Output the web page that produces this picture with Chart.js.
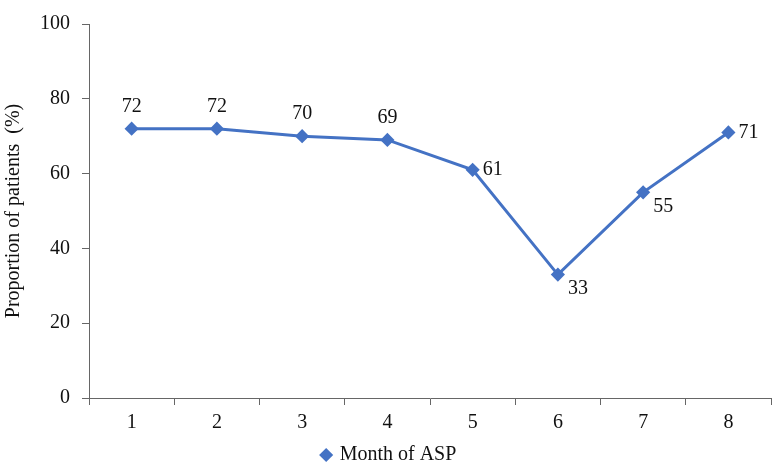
<!DOCTYPE html>
<html><head><meta charset="utf-8">
<script src="https://cdn.jsdelivr.net/npm/chart.js@4"></script>
<style>html,body{margin:0;padding:0;background:#fff}#w{width:779px;height:475px}</style>
</head><body><div id="w"><canvas id="c"></canvas></div>
<script>
const months = ['1','2','3','4','5','6','7','8'];
const proportion = [72,72,70,69,61,33,55,71];
const labelPlacement = ['top','top','top','top','right','belowright','belowright','right'];

const labelPlugin = {
  id:'lbl',
  afterDatasetsDraw(chart){
    const ctx = chart.ctx, meta = chart.getDatasetMeta(0);
    ctx.save();
    ctx.font = '20px "Liberation Serif"';
    ctx.fillStyle = '#111';
    meta.data.forEach((p,i)=>{
      const t = String(proportion[i]), pl = labelPlacement[i];
      let x=p.x, y=p.y;
      if(pl==='top'){ctx.textAlign='center';ctx.textBaseline='bottom';y-=12;}
      else if(pl==='right'){ctx.textAlign='left';ctx.textBaseline='middle';x+=10;}
      else {ctx.textAlign='left';ctx.textBaseline='top';x+=10;y+=4;}
      ctx.fillText(t,x,y);
    });
    ctx.restore();
  }
};

new Chart(document.getElementById('c'),{
  type:'line',
  data:{labels:months,datasets:[{label:'Month of ASP',data:proportion,
    borderColor:'#4472C4',backgroundColor:'#4472C4',borderWidth:3,
    pointStyle:'rectRot',pointRadius:5,pointHoverRadius:5,tension:0}]},
  options:{
    responsive:true,maintainAspectRatio:false,animation:false,
    layout:{padding:{top:0,right:0,left:0,bottom:0}},
    plugins:{
      legend:{position:'bottom',labels:{usePointStyle:true,pointStyle:'rectRot',boxWidth:7,boxHeight:7,color:'#111',
        font:{family:'Liberation Serif',size:20},padding:4}},
      tooltip:{enabled:false}
    },
    scales:{
      x:{offset:true,
        grid:{offset:true,drawOnChartArea:false,drawTicks:true,tickLength:7,color:'#666'},
        border:{color:'#666'},
        ticks:{color:'#111',font:{family:'Liberation Serif',size:20},padding:6}},
      y:{min:0,max:100,
        grid:{drawOnChartArea:false,drawTicks:true,tickLength:7,color:'#666'},
        border:{color:'#666'},
        ticks:{stepSize:20,color:'#111',font:{family:'Liberation Serif',size:20},padding:12},
        title:{display:true,text:'Proportion of patients  (%)',color:'#111',font:{family:'Liberation Serif',size:20},padding:2}}
    }
  },
  plugins:[labelPlugin]
});
</script></body></html>
